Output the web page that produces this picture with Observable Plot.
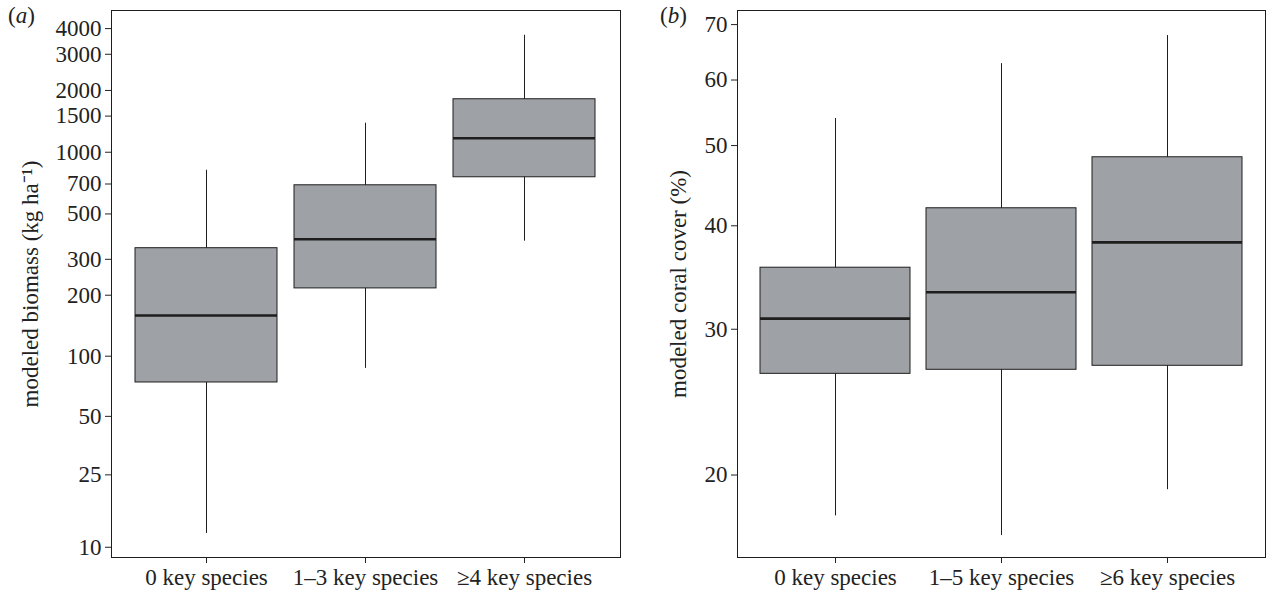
<!DOCTYPE html>
<html>
<head>
<meta charset="utf-8">
<script src="https://cdn.jsdelivr.net/npm/d3@7"></script>
<script src="https://cdn.jsdelivr.net/npm/@observablehq/plot@0.6"></script>
<style>
  html, body { margin: 0; padding: 0; background: #fff; }
  #wrap { position: relative; width: 1276px; height: 593px; display: flex; font-family: "Liberation Serif", "DejaVu Serif", serif; }
  .plabel { position: absolute; top: 3px; font-size: 23px; color: #222; font-family: "Liberation Serif", serif; }
</style>
</head>
<body>
<div id="wrap">
  <div class="plabel" style="left:8px">(<i>a</i>)</div>
  <div class="plabel" style="left:660px">(<i>b</i>)</div>
</div>
<script>
// Panel (a): modeled biomass
const catsA = ["0 key species", "1–3 key species", "≥4 key species"];
const loA  = [12, 87, 368];
const q1A  = [74, 216, 755];
const medA = [159, 376, 1170];
const q3A  = [340, 690, 1812];
const hiA  = [817, 1385, 3712];
const ticksA = [10, 25, 50, 100, 200, 300, 500, 700, 1000, 1500, 2000, 3000, 4000];

// Panel (b): modeled coral cover
const catsB = ["0 key species", "1–5 key species", "≥6 key species"];
const loB  = [17.85, 16.9, 19.2];
const q1B  = [26.5, 26.8, 27.1];
const medB = [30.9, 33.25, 38.2];
const q3B  = [35.6, 42.0, 48.4];
const hiB  = [53.9, 62.8, 67.9];
const ticksB = [20, 30, 40, 50, 60, 70];

function rows(cats, lo, q1, med, q3, hi) {
  return cats.map((c, i) => ({cat: c, lo: lo[i], q1: q1[i], med: med[i], q3: q3[i], hi: hi[i]}));
}

const boxFill = "#9ea1a5";
const ink = "#1e1e1e";

function panel(data, opts) {
  return Plot.plot({
    width: opts.width,
    height: 593,
    marginLeft: opts.marginLeft,
    marginRight: opts.marginRight,
    marginTop: 10,
    marginBottom: 36,
    style: {fontFamily: "'Liberation Serif', serif", fontSize: "23px", color: "#222", background: "white"},
    x: {domain: data.map(d => d.cat), paddingInner: opts.padIn, paddingOuter: opts.padOut, label: null, tickSize: 6, tickPadding: 5},
    y: Object.assign({
      domain: opts.yDomain, ticks: opts.ticks, tickFormat: d => String(d), tickSize: 6, tickPadding: 4,
      label: opts.yLabel, labelAnchor: "center", labelArrow: "none", labelOffset: opts.labelOffset
    }, opts.yScale),
    marks: [
      Plot.frame({stroke: ink, strokeWidth: 1}),
      Plot.ruleX(data, {x: "cat", y1: "lo", y2: "hi", stroke: ink, strokeWidth: 1}),
      Plot.barY(data, {x: "cat", y1: "q1", y2: "q3", fill: boxFill, stroke: ink, strokeWidth: 1}),
      Plot.tickY(data, {x: "cat", y: "med", stroke: ink, strokeWidth: 2.6})
    ]
  });
}

const wrap = document.getElementById("wrap");
const a = panel(rows(catsA, loA, q1A, medA, q3A, hiA), {
  width: 638, marginLeft: 111, marginRight: 18,
  padIn: 0.106, padOut: 0.15,
  yScale: {type: "symlog", constant: 2},
  yDomain: [8.7, 4900], ticks: ticksA,
  yLabel: "modeled biomass (kg ha⁻¹)", labelOffset: 90
});
const b = panel(rows(catsB, loB, q1B, medB, q3B, hiB), {
  width: 638, marginLeft: 99, marginRight: 11,
  padIn: 0.098, padOut: 0.136,
  yScale: {type: "log"},
  yDomain: [15.9, 72.8], ticks: ticksB,
  yLabel: "modeled coral cover (%)", labelOffset: 68
});
wrap.appendChild(a);
wrap.appendChild(b);
</script>
</body>
</html>
